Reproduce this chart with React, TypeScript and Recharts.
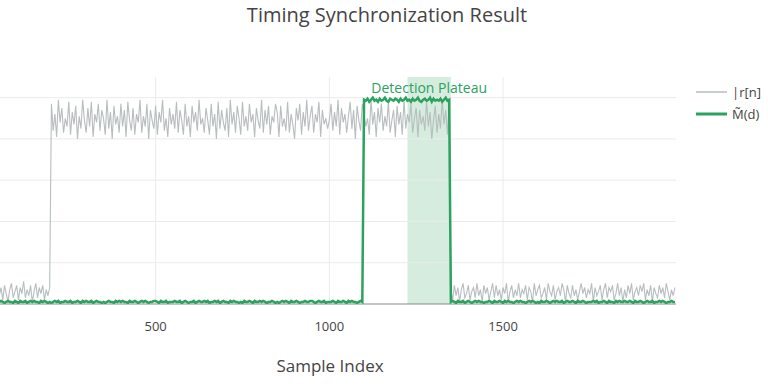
import React from "react";
import { LineChart, Line, XAxis, YAxis, ReferenceArea, ReferenceLine, Legend } from "recharts";

// Sample index grid (every 5th sample shown)
const SAMPLE_START = 50;
const SAMPLE_STEP = 5;

// |r[n]| : noise before burst, burst, noise after burst
const GRAY_PRE = [
  0.04,0.08,0.02,0.09,0.05,0.01,0.07,0.10,0.03,0.06,
  0.09,0.02,0.08,0.05,0.11,0.03,0.07,0.04,0.09,0.01,
  0.06,0.10,0.03,0.08,0.05,0.09,0.02,0.07,0.04,0.08,
];
const GRAY_BURST = [
  0.97,0.84,0.92,0.81,0.99,0.88,0.95,0.83,0.90,0.86,
  0.98,0.82,0.93,0.87,0.96,0.80,0.91,0.85,0.99,0.89,
  0.83,0.95,0.86,0.98,0.81,0.92,0.88,0.97,0.84,0.94,
  0.90,0.82,0.99,0.85,0.93,0.80,0.96,0.87,0.91,0.83,
  0.97,0.86,0.94,0.81,0.98,0.89,0.84,0.95,0.82,0.92,
  0.88,0.99,0.83,0.91,0.86,0.97,0.80,0.94,0.89,0.85,
  0.96,0.82,0.93,0.88,0.99,0.84,0.90,0.81,0.95,0.87,
  0.92,0.85,0.98,0.83,0.94,0.89,0.82,0.97,0.86,0.91,
  0.81,0.96,0.88,0.93,0.84,0.99,0.87,0.90,0.83,0.95,
  0.89,0.82,0.97,0.86,0.92,0.80,0.98,0.85,0.94,0.88,
  0.84,0.95,0.81,0.99,0.87,0.93,0.83,0.96,0.90,0.82,
  0.98,0.86,0.91,0.84,0.97,0.88,0.92,0.81,0.95,0.89,
  0.85,0.99,0.83,0.94,0.87,0.96,0.82,0.91,0.88,0.97,
  0.93,0.81,0.96,0.86,0.90,0.84,0.98,0.83,0.92,0.87,
  0.80,0.95,0.89,0.97,0.82,0.93,0.86,0.99,0.84,0.91,
  0.96,0.83,0.92,0.88,0.98,0.81,0.94,0.87,0.90,0.85,
  0.89,0.97,0.84,0.93,0.86,0.99,0.82,0.95,0.88,0.92,
  0.83,0.91,0.98,0.85,0.94,0.80,0.96,0.89,0.84,0.97,
  0.92,0.86,0.90,0.82,0.99,0.87,0.93,0.81,0.95,0.88,
  0.97,0.84,0.91,0.86,0.98,0.83,0.89,0.94,0.81,0.96,
  0.87,0.93,0.82,0.99,0.85,0.92,0.88,0.97,0.83,0.90,
  0.95,0.81,0.94,0.87,0.91,0.84,0.98,0.86,0.93,0.80,
  0.89,0.96,0.83,0.92,0.85,0.99,0.87,0.94,0.82,0.97,
];
const GRAY_POST = [
  0.06,0.02,0.09,0.04,0.08,0.01,0.07,0.10,0.03,0.05,
  0.09,0.02,0.06,0.08,0.03,0.10,0.04,0.07,0.01,0.09,
  0.05,0.08,0.02,0.06,0.10,0.03,0.09,0.04,0.07,0.02,
  0.08,0.05,0.10,0.01,0.06,0.09,0.03,0.07,0.04,0.10,
  0.03,0.07,0.05,0.09,0.02,0.08,0.06,0.01,0.10,0.04,
  0.07,0.09,0.03,0.05,0.08,0.02,0.10,0.06,0.04,0.09,
  0.02,0.06,0.08,0.04,0.10,0.07,0.01,0.09,0.05,0.03,
  0.09,0.04,0.07,0.02,0.06,0.10,0.05,0.08,0.03,0.07,
  0.05,0.10,0.01,0.08,0.04,0.06,0.09,0.02,0.07,0.10,
  0.03,0.08,0.06,0.09,0.02,0.05,0.10,0.04,0.08,0.01,
  0.07,0.03,0.09,0.05,0.10,0.02,0.06,0.08,0.04,0.09,
  0.06,0.10,0.02,0.07,0.04,0.09,0.01,0.08,0.05,0.03,
  0.09,0.05,0.08,0.03,0.10,0.06,0.02,0.07,0.04,0.08,
];

// M~(d) : timing metric, low, plateau, low
const GREEN_PRE = [
  0.01,0.015,0.01,0.005,0.01,0.015,0.01,0.01,0.005,0.015,
  0.01,0.005,0.015,0.01,0.01,0.015,0.005,0.01,0.015,0.01,
  0.015,0.01,0.01,0.005,0.015,0.01,0.015,0.01,0.005,0.01,
  0.005,0.01,0.015,0.01,0.015,0.005,0.01,0.01,0.015,0.01,
  0.01,0.015,0.005,0.01,0.01,0.015,0.01,0.005,0.015,0.01,
  0.015,0.01,0.01,0.015,0.005,0.01,0.015,0.01,0.01,0.005,
  0.01,0.005,0.01,0.015,0.01,0.01,0.005,0.015,0.01,0.015,
  0.01,0.015,0.01,0.01,0.005,0.015,0.01,0.01,0.015,0.01,
  0.005,0.01,0.015,0.01,0.015,0.01,0.005,0.01,0.01,0.015,
  0.015,0.01,0.005,0.015,0.01,0.01,0.015,0.005,0.01,0.01,
  0.01,0.015,0.01,0.01,0.015,0.005,0.01,0.015,0.01,0.005,
  0.01,0.01,0.015,0.005,0.01,0.015,0.01,0.01,0.015,0.01,
  0.015,0.005,0.01,0.01,0.015,0.01,0.015,0.005,0.01,0.015,
  0.01,0.01,0.005,0.015,0.01,0.015,0.01,0.01,0.005,0.01,
  0.005,0.015,0.01,0.01,0.015,0.01,0.005,0.015,0.01,0.01,
  0.015,0.01,0.015,0.01,0.005,0.01,0.01,0.015,0.01,0.005,
  0.01,0.005,0.01,0.015,0.01,0.015,0.01,0.005,0.015,0.01,
  0.01,0.015,0.01,0.005,0.01,0.01,0.015,0.01,0.01,0.015,
  0.015,0.01,0.005,0.01,0.015,0.01,0.01,0.015,0.005,0.01,
  0.01,0.01,0.015,0.01,0.005,0.015,0.01,0.01,0.015,0.01,
  0.005,0.015,0.01,0.015,0.01,0.01,0.005,0.01,0.015,0.01,
];
const GREEN_PLATEAU = [
  0.99,0.985,0.995,0.98,0.99,1.0,0.985,0.99,0.98,0.995,
  0.985,0.99,1.0,0.985,0.98,0.995,0.99,0.985,0.995,0.99,
  0.98,0.995,0.985,0.99,1.0,0.985,0.99,0.98,0.995,0.985,
  0.99,1.0,0.985,0.98,0.99,0.995,0.985,0.99,1.0,0.98,
  0.995,0.985,0.99,0.985,0.995,0.98,0.99,1.0,0.985,0.99,
];
const GREEN_POST = [
  0.01,0.015,0.01,0.005,0.015,0.01,0.01,0.015,0.005,0.01,
  0.015,0.01,0.005,0.01,0.015,0.01,0.015,0.01,0.01,0.005,
  0.01,0.01,0.015,0.01,0.005,0.015,0.01,0.01,0.015,0.01,
  0.005,0.015,0.01,0.015,0.01,0.01,0.005,0.01,0.015,0.01,
  0.015,0.01,0.01,0.005,0.01,0.015,0.01,0.015,0.01,0.005,
  0.01,0.005,0.015,0.01,0.01,0.015,0.01,0.005,0.01,0.015,
  0.01,0.015,0.01,0.01,0.015,0.005,0.01,0.015,0.01,0.01,
  0.015,0.01,0.005,0.015,0.01,0.01,0.015,0.01,0.005,0.01,
  0.01,0.01,0.015,0.01,0.015,0.005,0.01,0.01,0.015,0.01,
  0.005,0.015,0.01,0.01,0.005,0.015,0.01,0.015,0.01,0.01,
  0.015,0.01,0.01,0.015,0.01,0.005,0.015,0.01,0.01,0.015,
  0.01,0.005,0.01,0.015,0.01,0.01,0.015,0.005,0.01,0.01,
  0.015,0.01,0.015,0.01,0.005,0.01,0.01,0.015,0.01,0.01,
];

const X_TICKS = [500, 1000, 1500];
const Y_GRID = [0.2, 0.4, 0.6, 0.8, 1.0];
const X_DOMAIN = [52, 1998];
const Y_DOMAIN = [0, 1.1];
const PLATEAU_START = 1225;
const PLATEAU_END = 1350;

const SERIES_R = "|r[n]";
const SERIES_M = "M\u0303(d)";
const TITLE = "Timing Synchronization Result";
const X_TITLE = "Sample Index";
const ANNOTATION = "Detection Plateau";

const GRAY = [...GRAY_PRE, ...GRAY_BURST, ...GRAY_POST];
const GREEN = [...GREEN_PRE, ...GREEN_PLATEAU, ...GREEN_POST];
const data = GRAY.map((r, i) => ({
  n: SAMPLE_START + i * SAMPLE_STEP,
  r,
  m: GREEN[i],
}));

const GRAY_COLOR = "#b7bebf";
const GREEN_COLOR = "#2ca25f";
const GRID_COLOR = "#ebebeb";
const FONT = '"Open Sans", "Noto Sans", sans-serif';
const LEGEND_W = 72;

const LegendContent = () => (
  <div style={{ fontFamily: FONT, fontSize: 13, color: "#444" }}>
    {[
      { name: SERIES_R, color: "#c8cdcf", w: 2 },
      { name: SERIES_M, color: GREEN_COLOR, w: 3 },
    ].map((it) => (
      <div key={it.name} style={{ display: "flex", alignItems: "center", height: 22 }}>
        <svg width={36} height={10}>
          <line x1={0} x2={31} y1={5} y2={5} stroke={it.color} strokeWidth={it.w} />
        </svg>
        <span>{it.name}</span>
      </div>
    ))}
  </div>
);

export default function App() {
  return (
    <div style={{ position: "absolute", left: 0, top: 0, width: 768, height: 386, background: "#fff", fontFamily: FONT }}>
      <div style={{ position: "absolute", left: 0, top: 5, width: 774, textAlign: "center", fontSize: 20, lineHeight: "20px", color: "#444" }}>
        {TITLE}
      </div>
      <div style={{ position: "absolute", left: 230, top: 357, width: 200, textAlign: "center", fontSize: 17, lineHeight: "17px", color: "#444" }}>
        {X_TITLE}
      </div>
      <LineChart width={768} height={386} data={data} margin={{ top: 77, right: 92 - LEGEND_W, bottom: 52, left: 0 }}>
        <XAxis
          dataKey="n"
          type="number"
          domain={X_DOMAIN}
          ticks={X_TICKS}
          allowDataOverflow
          height={30}
          tickLine={false}
          tickMargin={12}
          axisLine={false}
          tick={{ fontSize: 13, fill: "#444", fontFamily: FONT }}
        />
        <YAxis type="number" domain={Y_DOMAIN} hide allowDataOverflow />
        {X_TICKS.map((t) => (
          <ReferenceLine key={`vx${t}`} x={t} stroke={GRID_COLOR} strokeWidth={1} />
        ))}
        {Y_GRID.map((t) => (
          <ReferenceLine key={`hy${t}`} y={t} stroke={GRID_COLOR} strokeWidth={1} />
        ))}
        <ReferenceLine y={0} stroke="#8a8a8a" strokeWidth={1} />
        <ReferenceArea
          x1={PLATEAU_START}
          x2={PLATEAU_END}
          fill={GREEN_COLOR}
          fillOpacity={0.2}
          stroke="none"
          label={{ value: ANNOTATION, position: "insideTop", offset: 6, fill: GREEN_COLOR, fontSize: 14, fontFamily: FONT }}
        />
        <Line type="linear" dataKey="r" name={SERIES_R} stroke={GRAY_COLOR} strokeWidth={1.1} dot={false} isAnimationActive={false} />
        <Line type="linear" dataKey="m" name={SERIES_M} stroke={GREEN_COLOR} strokeWidth={2.5} dot={false} isAnimationActive={false} />
        <Legend
          content={<LegendContent />}
          layout="vertical"
          verticalAlign="top"
          align="right"
          wrapperStyle={{ position: "absolute", left: 696, top: 81, width: LEGEND_W }}
        />
      </LineChart>
    </div>
  );
}
